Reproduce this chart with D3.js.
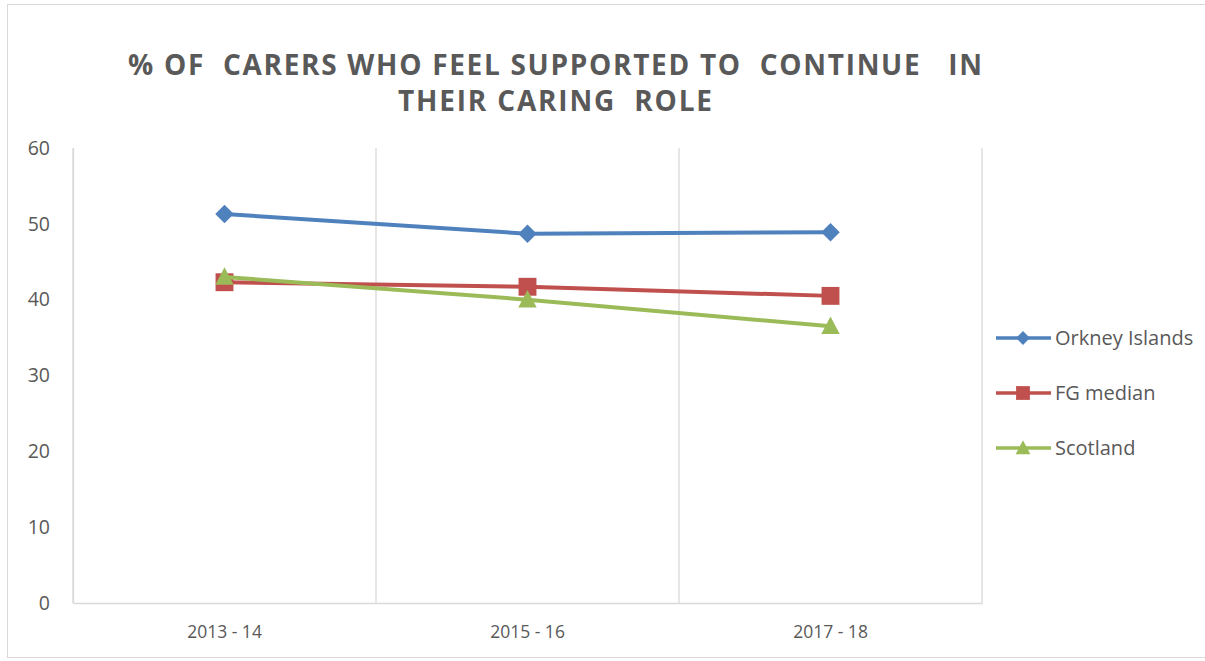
<!DOCTYPE html>
<html><head><meta charset="utf-8">
<script src="https://cdn.jsdelivr.net/npm/d3@7"></script>
<style>body{margin:0;background:#fff}svg{display:block}</style>
</head><body>
<script>
const categories = ["2013 - 14", "2015 - 16", "2017 - 18"];
const orkney = [51.3, 48.7, 48.9];
const fgMedian = [42.3, 41.7, 40.5];
const scotland = [43.0, 40.0, 36.5];
const yTicks = [0, 10, 20, 30, 40, 50, 60];
const seriesNames = ["Orkney Islands", "FG median", "Scotland"];
const seriesColors = ["#4F81BD", "#C0504D", "#9BBB59"];
const titleLines = ["% OF  CARERS WHO FEEL SUPPORTED TO  CONTINUE   IN", "THEIR CARING  ROLE"];

// custom marker shapes (Excel-like)
const diamondSym = { draw(ctx, size) { const r = Math.sqrt(size / 2); ctx.moveTo(0, -r); ctx.lineTo(r, 0); ctx.lineTo(0, r); ctx.lineTo(-r, 0); ctx.closePath(); } };
const squareSym = { draw(ctx, size) { const s = Math.sqrt(size) / 2; ctx.rect(-s, -s, 2 * s, 2 * s); } };
const triSym = { draw(ctx, size) { const w = Math.sqrt(size * 2) / 2; const h = w * 1.9; ctx.moveTo(0, -h * 0.55); ctx.lineTo(w, h * 0.45); ctx.lineTo(-w, h * 0.45); ctx.closePath(); } };
const seriesSymbols = [diamondSym, squareSym, triSym];

const W = 1205, H = 661;
const svg = d3.select("body").append("svg").attr("width", W).attr("height", H);
svg.append("rect").attr("x", 7.5).attr("y", 4.5).attr("width", W - 7).attr("height", H - 8)
  .attr("fill", "#fff").attr("stroke", "#d9d9d9");

const pL = 73, pR = 982, pT = 148, pB = 603;
const x = d3.scaleBand().domain(categories).range([pL, pR]);
const y = d3.scaleLinear().domain([0, 60]).range([pB, pT]);

// vertical gridlines at category boundaries
const bounds = categories.map(c => x(c)).concat([pR]);
svg.append("g").selectAll("line").data(bounds).join("line")
  .attr("x1", d => d).attr("x2", d => d).attr("y1", pT).attr("y2", pB)
  .attr("stroke", "#d9d9d9").attr("stroke-width", 1.3);

// axes
const yAxis = d3.axisLeft(y).tickValues(yTicks).tickSize(0).tickPadding(0);
const gy = svg.append("g").attr("transform", `translate(${pL},0)`).call(yAxis);
gy.select(".domain").attr("stroke", "#d9d9d9").attr("stroke-width", 1.3);
gy.selectAll("text").attr("x", -23).attr("fill", "#595959")
  .style("font-family", "'Open Sans', sans-serif").style("font-size", "19.5px").attr("text-anchor", "end");

const xAxis = d3.axisBottom(x).tickSize(0).tickPadding(0);
const gx = svg.append("g").attr("transform", `translate(0,${pB})`).call(xAxis);
gx.select(".domain").attr("stroke", "#d9d9d9").attr("stroke-width", 1.5);
gx.selectAll("text").attr("y", 29).attr("dy", "0.32em").attr("fill", "#595959")
  .style("font-family", "'Open Sans', sans-serif").style("font-size", "17.5px");

// series
const allSeries = [orkney, fgMedian, scotland];
const cx = c => x(c) + x.bandwidth() / 2;
const line = d3.line().x((d, i) => cx(categories[i])).y(d => y(d));
const symSizes = [170, 320, 170];
allSeries.forEach((vals, si) => {
  svg.append("path").datum(vals).attr("d", line).attr("fill", "none")
    .attr("stroke", seriesColors[si]).attr("stroke-width", 4);
  svg.append("g").selectAll("path").data(vals).join("path")
    .attr("transform", (d, i) => `translate(${cx(categories[i])},${y(d)})`)
    .attr("d", d3.symbol().type(seriesSymbols[si]).size(symSizes[si]))
    .attr("fill", seriesColors[si]);
});

// legend
const legY = [338, 393, 448];
const legSizes = [95, 190, 110];
seriesNames.forEach((n, i) => {
  const g = svg.append("g").attr("transform", `translate(0,${legY[i]})`);
  g.append("line").attr("x1", 996).attr("x2", 1051).attr("y1", 0).attr("y2", 0)
    .attr("stroke", seriesColors[i]).attr("stroke-width", 3.5);
  g.append("path").attr("transform", "translate(1023,0)")
    .attr("d", d3.symbol().type(seriesSymbols[i]).size(legSizes[i]))
    .attr("fill", seriesColors[i]);
  g.append("text").attr("x", 1055).attr("y", 0).attr("dy", "0.35em").text(n).attr("fill", "#595959")
    .style("font-family", "'Open Sans', sans-serif").style("font-size", "20px");
});

// title
const tl = [[555, 75, 854], [555, 111, 314]];
titleLines.forEach((t, i) => {
  svg.append("text").attr("x", tl[i][0]).attr("y", tl[i][1]).attr("text-anchor", "middle")
    .attr("textLength", tl[i][2]).attr("lengthAdjust", "spacing")
    .attr("fill", "#595959").style("font-family", "'Open Sans', sans-serif")
    .style("font-weight", "bold").style("font-size", "28px").style("white-space", "pre")
    .text(t);
});
</script>
</body></html>
